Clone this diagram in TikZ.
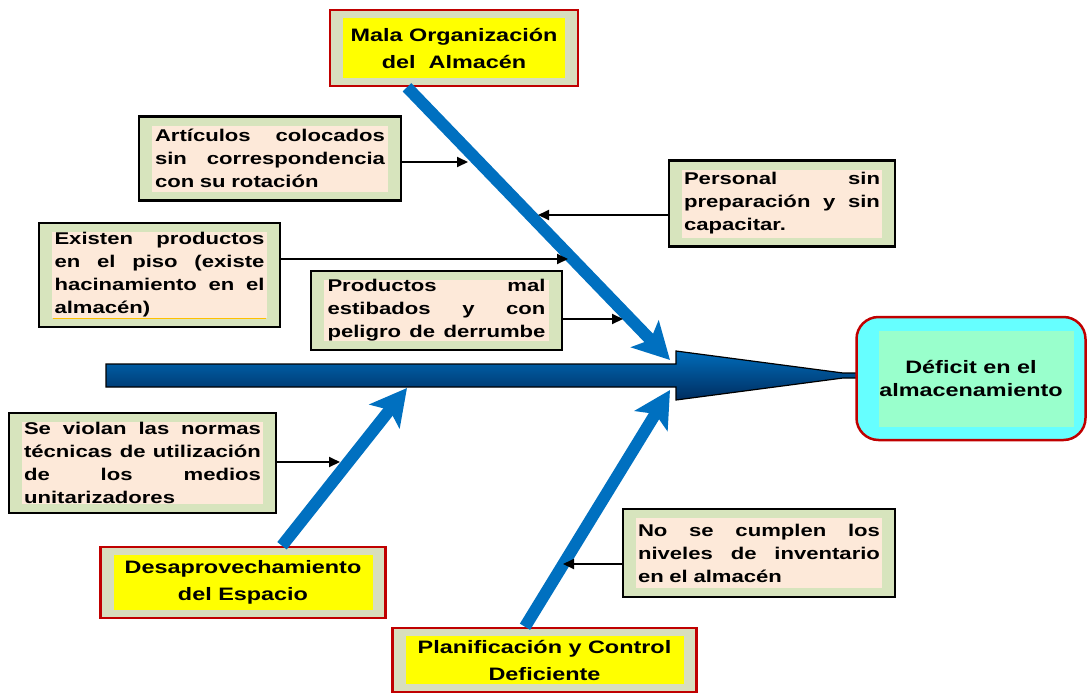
\documentclass[tikz,border=0pt]{standalone}
\usepackage{fontspec}
\setmainfont{Liberation Sans}[FakeStretch=1.3]
\usetikzlibrary{arrows.meta}
\definecolor{dgreen}{RGB}{215,228,189}
\definecolor{peach}{RGB}{253,233,217}
\definecolor{mgray}{RGB}{216,222,190}
\definecolor{myred}{RGB}{192,0,0}
\definecolor{myblue}{RGB}{0,112,192}
\definecolor{cyanf}{RGB}{102,255,255}
\definecolor{mint}{RGB}{153,255,204}
\definecolor{myyellow}{RGB}{255,255,0}
\definecolor{spinetop}{RGB}{0,108,186}
\definecolor{spinebot}{RGB}{0,45,95}
\definecolor{ora}{RGB}{255,192,0}
\newcommand{\jl}[1]{\leavevmode\hbox to \hsize{\spaceskip=0.3em plus 1fil\relax #1}}
\tikzset{
  detbox/.style={draw=black, line width=2.5pt, fill=dgreen, inner sep=0pt,
    align=left, font=\fontsize{17}{23}\selectfont\bfseries,
    path picture={\fill[peach] ([xshift=13pt,yshift=-9pt]path picture bounding box.north west) rectangle ([xshift=-13pt,yshift=9pt]path picture bounding box.south east);}},
  mainbox/.style={draw=myred, line width=2.5pt, fill=mgray, inner sep=0pt,
    align=center, font=\fontsize{18}{27}\selectfont\bfseries,
    path picture={\fill[myyellow] ([xshift=13pt,yshift=-8pt]path picture bounding box.north west) rectangle ([xshift=-13pt,yshift=8pt]path picture bounding box.south east);}},
  effbox/.style={draw=myred, line width=2.5pt, fill=cyanf, rounded corners=22pt, inner sep=0pt,
    align=center, font=\fontsize{18}{23}\selectfont\bfseries,
    path picture={\fill[mint, sharp corners] ([xshift=22pt,yshift=-14pt]path picture bounding box.north west) rectangle ([xshift=-12pt,yshift=13pt]path picture bounding box.south east);}},
  bluearr/.style={draw=myblue, line width=12pt, -{Stealth[length=36pt,width=38pt,inset=8pt]}},
  conn/.style={draw=black, line width=2pt, -{Triangle[length=11pt,width=10pt]}}
}
\begin{document}
\begin{tikzpicture}[x=1pt,y=-1pt]
\useasboundingbox (0,0) rectangle (1088,694);
% spine
\shade[top color=spinetop, bottom color=spinebot, draw=black, line width=1.2pt]
  (106,364) -- (676,364) -- (676,351) -- (843,373) -- (857,373) -- (857,378) -- (843,378) -- (676,400) -- (676,387) -- (106,387) -- cycle;
% coordinates
\coordinate (m1) at (407,86);
\coordinate (mtip) at (670,360);
\coordinate (d1) at (282,546);
\coordinate (dtip) at (407,388);
\coordinate (p1) at (525,627);
\coordinate (ptip) at (670,390);
\coordinate (ca) at (468,162);
\coordinate (cb) at (538,215);
\coordinate (cc) at (568,259);
\coordinate (cd) at (623,319);
\coordinate (ce) at (340,462);
\coordinate (cf) at (563,564);
% nodes
\node[mainbox, minimum width=248pt, minimum height=76pt] (mala) at (454,48) {Mala Organización\\del\ \ Almacén};
\node[mainbox, minimum width=285pt, minimum height=71pt] (desap) at (243,582.5) {Desaprovechamiento\\del Espacio};
\node[mainbox, minimum width=304pt, minimum height=64pt] (plan) at (544.5,660) {Planificación y Control\\Deficiente};
\node[effbox, minimum width=229pt, minimum height=123pt] (def) at (971,378.5) {Déficit en el\\almacenamiento};
\node[detbox, minimum width=262pt, minimum height=84pt, text width=230pt] (art) at (270,158.5)
  {\jl{Artículos colocados}\\\jl{sin correspondencia}\\con su rotación};
\node[detbox, minimum width=226pt, minimum height=86pt, text width=196pt] (pers) at (782,203.5)
  {\jl{Personal sin}\\\jl{preparación y sin}\\capacitar.};
\node[detbox, minimum width=241pt, minimum height=104pt, text width=210pt] (exist) at (159.5,275)
  {\jl{Existen productos}\\\jl{en el piso (existe}\\\jl{hacinamiento en el}\\almacén)};
\node[detbox, minimum width=251pt, minimum height=79pt, text width=218pt] (prod) at (436.5,310.5)
  {\jl{Productos mal}\\\jl{estibados y con}\\\jl{peligro de derrumbe}};
\node[detbox, minimum width=267pt, minimum height=100pt, text width=237pt] (viol) at (142.5,463)
  {\jl{Se violan las normas}\\\jl{técnicas de utilización}\\\jl{de los medios}\\unitarizadores};
\node[detbox, minimum width=272pt, minimum height=88pt, text width=242pt] (nocum) at (759,553)
  {\jl{No se cumplen los}\\\jl{niveles de inventario}\\en el almacén};
\draw[color=ora, line width=1.5pt] ([xshift=15pt,yshift=10pt]exist.south west) -- ([xshift=-15pt,yshift=10pt]exist.south east);
% blue arrows
\draw[bluearr] (mala.south -| m1) -- (mtip);
\draw[bluearr] (desap.north -| d1) -- (dtip);
\draw[bluearr] (plan.north -| p1) -- (ptip);
% connectors
\draw[conn] (art.east |- ca) -- (ca);
\draw[conn] (pers.west |- cb) -- (cb);
\draw[conn] (exist.east |- cc) -- (cc);
\draw[conn] (prod.east |- cd) -- (cd);
\draw[conn] (viol.east |- ce) -- (ce);
\draw[conn] (nocum.west |- cf) -- (cf);
\end{tikzpicture}
\end{document}
